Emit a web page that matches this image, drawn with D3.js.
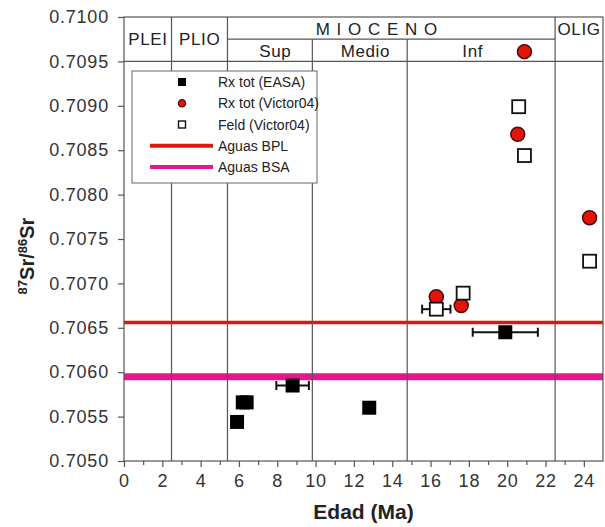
<!DOCTYPE html>
<html>
<head>
<meta charset="utf-8">
<script src="https://cdn.jsdelivr.net/npm/d3@7"></script>
<style>
    body { margin: 0; background: #fff; }
    text { font-family: Arial, "Liberation Sans", sans-serif; }
</style>
</head>
<body>
<script>
(function () {
    var width = 605;
    var height = 527;

    // Rx tot (EASA)
    var easaAge = [5.9, 6.2, 6.4, 8.8, 12.8, 19.9];
    var easaSr = [0.70544, 0.70566, 0.70566, 0.70585, 0.70560, 0.70645];
    var easaErr = [0, 0, 0, 0.85, 0, 1.7];

    // Rx tot (Victor04)
    var rxAge = [16.3, 17.6, 20.55, 20.9, 24.3];
    var rxSr = [0.70685, 0.70675, 0.70868, 0.70961, 0.70774];

    // Feld (Victor04)
    var feldAge = [16.3, 17.7, 20.6, 20.9, 24.3];
    var feldSr = [0.70671, 0.70689, 0.70899, 0.70844, 0.70725];
    var feldErr = [0.74, 0, 0, 0, 0];

    // aguas
    var bplSr = 0.70656;
    var bsaSr = 0.70595;

    // limites de epocas (Ma)
    var boundaries = [2.48, 5.4, 9.83, 14.78, 22.5];
    var topLabels = ['PLEI', 'PLIO', 'M I O C E N O', 'OLIG'];
    var topLabelAge = [1.25, 3.95, 13.2, 23.75];
    var subLabels = ['Sup', 'Medio', 'Inf'];
    var subLabelAge = [7.9, 12.6, 18.2];

    var legendLabels = ['Rx tot (EASA)', 'Rx tot (Victor04)', 'Feld (Victor04)', 'Aguas BPL', 'Aguas BSA'];

    var red = '#e3140c';
    var pink = '#e8168c';
    var frame = '#555';

    var svg = d3.select('body').append('svg')
        .attr('width', width)
        .attr('height', height);

    var x = d3.scaleLinear().domain([0, 25]).range([124, 603]);
    var y = d3.scaleLinear().domain([0.7050, 0.7100]).range([461, 17]);

    // lineas de aguas
    svg.append('line')
        .attr('x1', x(0)).attr('x2', x(25))
        .attr('y1', y(bsaSr)).attr('y2', y(bsaSr))
        .attr('stroke', pink).attr('stroke-width', 7);
    svg.append('line')
        .attr('x1', x(0)).attr('x2', x(25))
        .attr('y1', y(bplSr)).attr('y2', y(bplSr))
        .attr('stroke', red).attr('stroke-width', 3.5);

    // limites verticales
    svg.selectAll('.bound')
        .data(boundaries)
        .enter()
        .append('line')
        .attr('class', 'bound')
        .attr('x1', function(d) { return x(d); })
        .attr('x2', function(d) { return x(d); })
        .attr('y1', function(d, i) { return (i === 2 || i === 3) ? y(0.70975) : y(0.7100); })
        .attr('y2', y(0.7050))
        .attr('stroke', frame).attr('stroke-width', 1.2);

    // filas de cabecera
    svg.append('line')
        .attr('x1', x(0)).attr('x2', x(25))
        .attr('y1', y(0.7095)).attr('y2', y(0.7095))
        .attr('stroke', frame).attr('stroke-width', 1.2);
    svg.append('line')
        .attr('x1', x(boundaries[1])).attr('x2', x(boundaries[4]))
        .attr('y1', y(0.70975)).attr('y2', y(0.70975))
        .attr('stroke', frame).attr('stroke-width', 1.2);

    svg.selectAll('.top-label')
        .data(topLabels)
        .enter()
        .append('text')
        .attr('class', 'top-label')
        .attr('x', function(d, i) { return x(topLabelAge[i]); })
        .attr('y', function(d, i) { return (i === 2 || i === 3) ? 35 : 45; })
        .attr('text-anchor', 'middle')
        .attr('font-size', 17)
        .attr('letter-spacing', function(d, i) { return i === 2 ? 1 : 0.6; })
        .attr('fill', '#222')
        .text(function(d) { return d; });

    svg.selectAll('.sub-label')
        .data(subLabels)
        .enter()
        .append('text')
        .attr('class', 'sub-label')
        .attr('x', function(d, i) { return x(subLabelAge[i]); })
        .attr('y', 57)
        .attr('text-anchor', 'middle')
        .attr('font-size', 17)
        .attr('letter-spacing', 0.6)
        .attr('fill', '#222')
        .text(function(d) { return d; });

    // barras de error
    var errG = svg.append('g');
    drawErrors(errG, easaAge, easaSr, easaErr);
    drawErrors(errG, feldAge, feldSr, feldErr);

    // Rx tot (EASA)
    svg.append('g').selectAll('rect')
        .data(easaAge)
        .enter()
        .append('rect')
        .attr('x', function(d) { return x(d) - 7; })
        .attr('y', function(d, i) { return y(easaSr[i]) - 7; })
        .attr('width', 14).attr('height', 14)
        .attr('fill', '#000');

    // Rx tot (Victor04)
    svg.append('g').selectAll('circle')
        .data(rxAge)
        .enter()
        .append('circle')
        .attr('cx', function(d) { return x(d); })
        .attr('cy', function(d, i) { return y(rxSr[i]); })
        .attr('r', 7)
        .attr('fill', red)
        .attr('stroke', '#4a0c0c')
        .attr('stroke-width', 1.5);

    // Feld (Victor04)
    svg.append('g').selectAll('rect')
        .data(feldAge)
        .enter()
        .append('rect')
        .attr('x', function(d) { return x(d) - 6.5; })
        .attr('y', function(d, i) { return y(feldSr[i]) - 6.5; })
        .attr('width', 13).attr('height', 13)
        .attr('fill', '#fff')
        .attr('stroke', '#111')
        .attr('stroke-width', 1.8);

    // marco
    svg.append('rect')
        .attr('x', x(0)).attr('y', y(0.7100))
        .attr('width', x(25) - x(0)).attr('height', y(0.7050) - y(0.7100))
        .attr('fill', 'none')
        .attr('stroke', frame).attr('stroke-width', 1.2);

    // ejes
    var xAxis = svg.append('g')
        .attr('transform', 'translate(0,' + y(0.7050) + ')')
        .call(d3.axisBottom(x).tickValues(d3.range(0, 25, 2)).tickSize(6).tickPadding(7).tickFormat(d3.format('d')));
    var xMinor = svg.append('g')
        .attr('transform', 'translate(0,' + y(0.7050) + ')')
        .call(d3.axisBottom(x).tickValues(d3.range(1, 25, 2)).tickSize(4).tickFormat(''));
    var yAxis = svg.append('g')
        .attr('transform', 'translate(' + x(0) + ',0)')
        .call(d3.axisLeft(y).ticks(10).tickSize(6).tickPadding(9).tickFormat(d3.format('.4f')));

    [xAxis, xMinor, yAxis].forEach(function(a) {
        a.select('.domain').remove();
        a.selectAll('line').attr('stroke', frame).attr('stroke-width', 1.2);
        a.selectAll('text')
            .attr('font-size', 18)
            .attr('letter-spacing', 0.8)
            .attr('fill', '#333')
            .style('font-family', 'Arial, "Liberation Sans", sans-serif');
    });

    // titulos
    svg.append('text')
        .attr('x', (x(0) + x(25)) / 2)
        .attr('y', 519)
        .attr('text-anchor', 'middle')
        .attr('font-size', 21)
        .attr('font-weight', 'bold')
        .attr('fill', '#222')
        .text('Edad (Ma)');

    var yTitle = svg.append('text')
        .attr('transform', 'translate(34,256) rotate(-90)')
        .attr('text-anchor', 'middle')
        .attr('font-size', 20)
        .attr('font-weight', 'bold')
        .attr('fill', '#222');
    yTitle.append('tspan').attr('font-size', 13).attr('dy', -7).text('87');
    yTitle.append('tspan').attr('dy', 7).text('Sr/');
    yTitle.append('tspan').attr('font-size', 13).attr('dy', -7).text('86');
    yTitle.append('tspan').attr('dy', 7).text('Sr');

    renderLegend();

    /**
     * Dibuja barras de error horizontales
     */
    function drawErrors(g, ages, srs, errs) {
        ages.forEach(function(a, i) {
            if (!errs[i]) {
                return;
            }
            var yy = y(srs[i]);
            var x0 = x(a - errs[i]);
            var x1 = x(a + errs[i]);
            g.append('line').attr('x1', x0).attr('x2', x1).attr('y1', yy).attr('y2', yy);
            g.append('line').attr('x1', x0).attr('x2', x0).attr('y1', yy - 4.5).attr('y2', yy + 4.5);
            g.append('line').attr('x1', x1).attr('x2', x1).attr('y1', yy - 4.5).attr('y2', yy + 4.5);
        });
        g.selectAll('line').attr('stroke', '#111').attr('stroke-width', 2);
    }

    /**
     * Leyenda
     */
    function renderLegend() {
        var lg = svg.append('g');
        lg.append('rect')
            .attr('x', 132).attr('y', 71)
            .attr('width', 185).attr('height', 112)
            .attr('fill', '#fff')
            .attr('stroke', '#666').attr('stroke-width', 1);

        var rowY = d3.scalePoint().domain(legendLabels).range([82, 167]);
        var mx = 182;

        lg.append('rect').attr('x', mx - 4).attr('y', rowY(legendLabels[0]) - 4)
            .attr('width', 8).attr('height', 8).attr('fill', '#000');
        lg.append('circle').attr('cx', mx).attr('cy', rowY(legendLabels[1]))
            .attr('r', 3.6).attr('fill', red).attr('stroke', '#4a0c0c').attr('stroke-width', 1.3);
        lg.append('rect').attr('x', mx - 3.5).attr('y', rowY(legendLabels[2]) - 3.5)
            .attr('width', 7).attr('height', 7).attr('fill', '#fff')
            .attr('stroke', '#111').attr('stroke-width', 1.4);
        lg.append('line').attr('x1', 150).attr('x2', 213)
            .attr('y1', rowY(legendLabels[3])).attr('y2', rowY(legendLabels[3]))
            .attr('stroke', red).attr('stroke-width', 4);
        lg.append('line').attr('x1', 150).attr('x2', 213)
            .attr('y1', rowY(legendLabels[4])).attr('y2', rowY(legendLabels[4]))
            .attr('stroke', pink).attr('stroke-width', 4);

        lg.selectAll('.leg-text')
            .data(legendLabels)
            .enter()
            .append('text')
            .attr('class', 'leg-text')
            .attr('x', 218)
            .attr('y', function(d) { return rowY(d); })
            .attr('dy', '0.36em')
            .attr('font-size', 14)
            .attr('fill', '#222')
            .text(function(d) { return d; });
    }
}());
</script>
</body>
</html>
